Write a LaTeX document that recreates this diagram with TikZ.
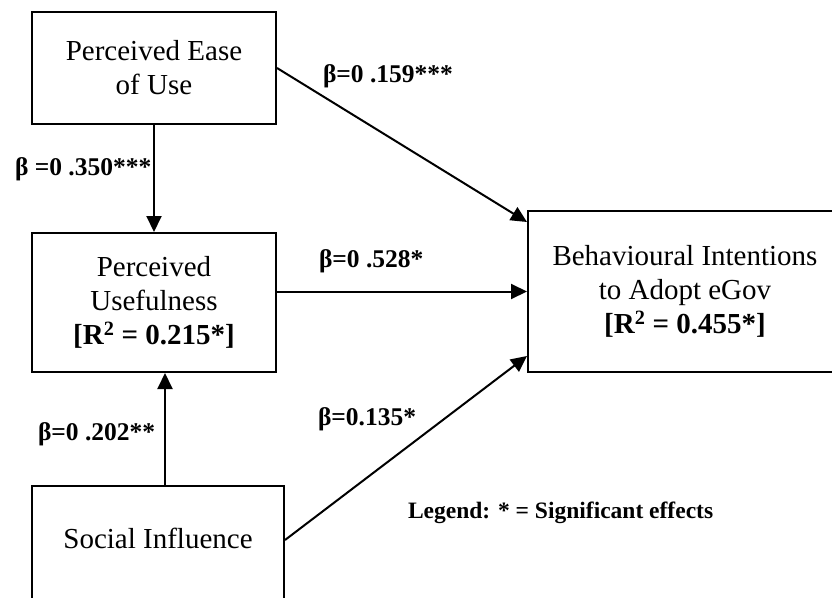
\documentclass[tikz,border=0pt]{standalone}
\usepackage{fontspec}
\setmainfont{Liberation Serif}
\usetikzlibrary{arrows.meta}

\begin{document}
\begin{tikzpicture}[x=1pt,y=-1pt,>={Triangle[length=16pt,width=15pt]},line width=2pt,
	box/.style={draw,rectangle,align=center,inner sep=0pt,font=\fontsize{29}{34}\selectfont},
	coef/.style={anchor=base west,inner sep=0pt,font=\fontsize{25.5}{28}\selectfont\bfseries}]
	\useasboundingbox (0,0) rectangle (832,597);
	\begin{scope}
		\node[box,minimum width=244pt,minimum height=112pt] (peou) at (154,68)
			{Perceived Ease\\of Use};
		\node[box,minimum width=244pt,minimum height=139pt] (pu) at (154,302.5)
			{Perceived\\Usefulness\\\textbf{[R\textsuperscript{2} = 0.215*]}};
		\node[box,minimum width=252pt,anchor=north,text height=62pt,text depth=100pt] (si) at (158,485)
			{Social Influence};
		\node[box,minimum width=314pt,minimum height=161pt] (bi) at (685,291.5)
			{Behavioural Intentions\\to Adopt eGov\\\textbf{[R\textsuperscript{2} = 0.455*]}};
	\end{scope}
	\begin{scope}
		\draw[->] (peou.south) -- (pu.north);
		\draw[->] ([xshift=7pt]si.north) -- ([xshift=7pt]si.north |- pu.south);
		\draw[->] (peou.east) -- ([yshift=-12pt]bi.north west);
		\draw[->] (pu.east |- bi.west) -- (bi.west);
		\draw[->] ([yshift=-55pt]si.north east) -- ([yshift=17pt]bi.south west);
	\end{scope}
	\begin{scope}
		\node[coef] (c159) at (322,82) {β=0 .159***};
		\node[coef] (c350) at (14,175) {β =0 .350***};
		\node[coef] (c528) at (318,267) {β=0 .528*};
		\node[coef] (c202) at (37,440) {β=0 .202**};
		\node[coef] (c135) at (317,425) {β=0.135*};
		\node[coef,font=\fontsize{23.5}{28}\selectfont\bfseries] (legend) at (407,518)
			{Legend: * = Significant effects};
	\end{scope}
\end{tikzpicture}
\end{document}
